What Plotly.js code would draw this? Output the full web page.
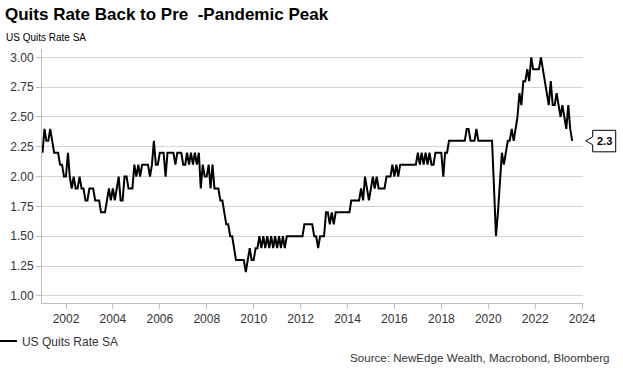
<!DOCTYPE html>
<html><head><meta charset="utf-8">
<script src="https://cdn.plot.ly/plotly-3.0.1.min.js"></script>
<style>html,body{margin:0;padding:0;background:#fff}#chart{width:623px;height:376px}</style>
</head><body><div id="chart"></div>
<script>
const seriesName = "US Quits Rate SA";
const chartTitle = "Quits Rate Back to Pre\u00a0\u00a0-Pandemic Peak";
const subTitle = "US Quits Rate SA";
const sourceText = "Source: NewEdge Wealth, Macrobond, Bloomberg";
// monthly values, first value = Dec 2000
const startYear = 2000, startMonth = 12;
const quits2000s = [
  2.2,
  2.4, 2.3, 2.3, 2.4, 2.3, 2.2, 2.2, 2.2, 2.1, 2.1, 2.0, 2.0,
  2.2, 2.0, 1.9, 2.0, 1.9, 1.9, 2.0, 1.9, 1.9, 1.8, 1.8, 1.9,
  1.9, 1.9, 1.8, 1.8, 1.8, 1.7, 1.7, 1.7, 1.8, 1.9, 1.8, 1.9,
  1.8, 1.9, 2.0, 1.8, 1.8, 2.0, 2.0, 1.9, 1.9, 1.9, 2.1, 2.0,
  2.1, 2.0, 2.1, 2.1, 2.1, 2.1, 2.0, 2.1, 2.3, 2.1, 2.1, 2.2,
  2.2, 2.2, 2.0, 2.2, 2.2, 2.2, 2.2, 2.1, 2.2, 2.2, 2.2, 2.1,
  2.1, 2.2, 2.1, 2.2, 2.1, 2.2, 2.1, 2.2, 1.9, 2.1, 2.0, 2.0,
  2.1, 1.9, 2.1, 1.9, 1.9, 1.9, 1.8, 1.8, 1.7, 1.6, 1.6, 1.5,
  1.5, 1.4, 1.3, 1.3, 1.3, 1.3, 1.3, 1.2, 1.3, 1.4, 1.3, 1.3
];
const quits2010s = [
  1.4, 1.4, 1.5, 1.4, 1.5, 1.4, 1.5, 1.4, 1.5, 1.4, 1.5, 1.4,
  1.5, 1.4, 1.5, 1.4, 1.5, 1.5, 1.5, 1.5, 1.5, 1.5, 1.5, 1.5,
  1.5, 1.6, 1.6, 1.6, 1.6, 1.6, 1.5, 1.5, 1.4, 1.5, 1.5, 1.5,
  1.7, 1.7, 1.6, 1.7, 1.6, 1.7, 1.7, 1.7, 1.7, 1.7, 1.7, 1.7,
  1.7, 1.8, 1.8, 1.8, 1.8, 1.8, 1.9, 1.8, 2.0, 1.9, 1.8, 1.9,
  2.0, 1.9, 2.0, 1.9, 1.9, 1.9, 1.9, 2.0, 2.0, 2.0, 2.1, 2.0,
  2.1, 2.0, 2.1, 2.1, 2.1, 2.1, 2.1, 2.1, 2.1, 2.1, 2.1, 2.2,
  2.1, 2.2, 2.1, 2.2, 2.1, 2.2, 2.1, 2.1, 2.2, 2.2, 2.2, 2.2,
  2.0, 2.2, 2.2, 2.3, 2.3, 2.3, 2.3, 2.3, 2.3, 2.3, 2.3, 2.3,
  2.4, 2.4, 2.3, 2.3, 2.3, 2.4, 2.3, 2.3, 2.3, 2.3, 2.3, 2.3
];
const quits2020s = [
  2.3, 2.3, 1.9, 1.5, 1.7, 2.0, 2.2, 2.1, 2.2, 2.3, 2.3, 2.4,
  2.3, 2.4, 2.5, 2.7, 2.6, 2.8, 2.8, 2.9, 2.8, 3.0, 2.9, 2.9,
  2.9, 2.9, 3.0, 2.9, 2.8, 2.7, 2.6, 2.8, 2.6, 2.6, 2.7, 2.6,
  2.5, 2.6, 2.5, 2.4, 2.6, 2.4, 2.3
];
const yTickVals = [1.00, 1.25, 1.50, 1.75, 2.00, 2.25, 2.50, 2.75, 3.00];

const values = quits2000s.concat(quits2010s, quits2020s);
const dates = values.map(function (v, i) {
  const d = new Date(Date.UTC(startYear, startMonth + i, 0));
  return d.toISOString().slice(0, 10);
});
const lastDate = dates[dates.length - 1];
const lastVal = values[values.length - 1];

const xRange = ['2000-12-23', '2024-01-15'];
const yRange = [0.94, 3.07];
// paper position of the last point (callout is drawn outside the plot area)
const t0 = Date.parse(xRange[0]), t1 = Date.parse(xRange[1]);
const lastPx = (Date.parse(lastDate) - t0) / (t1 - t0);
const lastPy = (lastVal - yRange[0]) / (yRange[1] - yRange[0]);

const trace = {
  type: 'scatter', mode: 'lines', name: seriesName,
  x: dates, y: values,
  line: {color: '#000000', width: 2},
  hoverinfo: 'skip'
};

const layout = {
  width: 623, height: 376,
  margin: {l: 42, r: 40, t: 49, b: 73, autoexpand: false},
  paper_bgcolor: '#ffffff', plot_bgcolor: '#ffffff',
  font: {family: '"Liberation Sans", Arial, sans-serif', size: 12, color: '#333333'},
  title: {
    text: '<b>' + chartTitle + '</b>',
    xref: 'container', yref: 'container',
    x: 0.008, xanchor: 'left', y: 0.962, yanchor: 'middle',
    font: {size: 17, color: '#000000', family: '"Liberation Sans", Arial, sans-serif'}
  },
  xaxis: {
    type: 'date', range: xRange,
    tick0: '2002-01-01', dtick: 'M24', tickformat: '%Y',
    showgrid: false, zeroline: false,
    showline: true, linecolor: '#bfbfbf', linewidth: 1,
    ticks: 'outside', ticklen: 5, tickcolor: '#bfbfbf',
    tickfont: {size: 12, color: '#333333'}
  },
  yaxis: {
    range: yRange, tickvals: yTickVals, tickformat: '.2f',
    showgrid: true, gridcolor: '#d4d4d4', gridwidth: 1, zeroline: false,
    showline: true, linecolor: '#bfbfbf', linewidth: 1,
    ticks: 'outside', ticklen: 5, tickcolor: '#bfbfbf',
    tickfont: {size: 12, color: '#333333'}
  },
  showlegend: true,
  legend: {
    orientation: 'h', x: -0.111, xanchor: 'left', y: -0.15, yanchor: 'middle',
    font: {size: 12, color: '#333333'}, bgcolor: 'rgba(0,0,0,0)', itemwidth: 30
  },
  annotations: [
    {text: subTitle, xref: 'paper', yref: 'paper', x: -0.0702, y: 1.047,
     xanchor: 'left', yanchor: 'middle', showarrow: false,
     font: {size: 10, color: '#000000'}},
    {text: sourceText, xref: 'paper', yref: 'paper', x: 1.0536, y: -0.2165,
     xanchor: 'right', yanchor: 'middle', showarrow: false,
     font: {size: 11.6, color: '#333333'}},
    {text: '<b>' + lastVal.toFixed(1) + '</b>', x: lastPx, y: lastPy,
     xref: 'paper', yref: 'paper', xanchor: 'center', yanchor: 'middle', xshift: 32,
     showarrow: false, font: {size: 11, color: '#000000'}}
  ],
  shapes: [
    {type: 'path', xref: 'paper', yref: 'paper', xsizemode: 'pixel', ysizemode: 'pixel',
     xanchor: lastPx, yanchor: lastPy,
     path: 'M 20.5 4 L 13.5 0 L 20.5 -4 L 20.5 -11 L 43.5 -11 L 43.5 10.5 L 20.5 10.5 Z',
     line: {color: '#000000', width: 1}, fillcolor: '#ffffff', layer: 'above'}
  ]
};

Plotly.newPlot('chart', [trace], layout, {displayModeBar: false, staticPlot: true});
</script>
</body></html>
